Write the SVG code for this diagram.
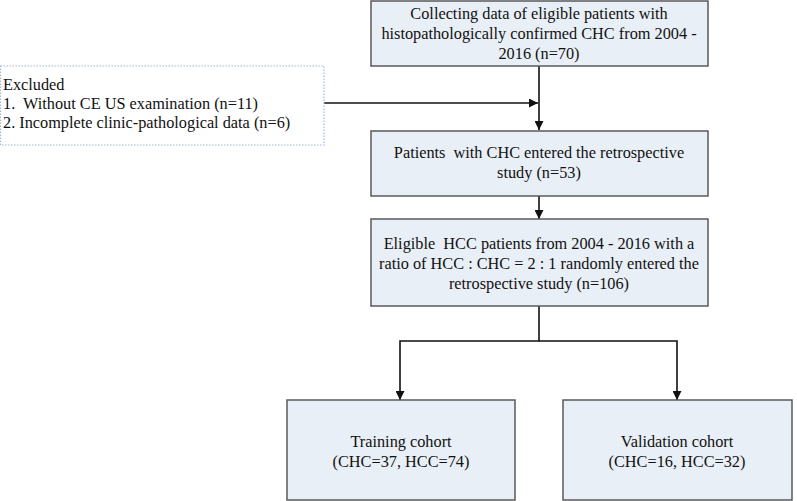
<svg xmlns="http://www.w3.org/2000/svg" width="797" height="501" viewBox="0 0 797 501">
<style>
.box{fill:#E9EFF6;stroke:#5a5a5a;stroke-width:1.5}
.ex{fill:#ffffff;stroke:#9DB9D8;stroke-width:1.2;stroke-dasharray:1.5 1.5}
text{font-family:"Liberation Serif","Times New Roman",serif;font-size:16.3px;fill:#111;white-space:pre}
.c{text-anchor:middle}
.ln{fill:none;stroke:#111;stroke-width:1.6}
</style>
<defs>
<marker id="ah" viewBox="0 0 10 10" refX="10" refY="5" markerWidth="10" markerHeight="9" markerUnits="userSpaceOnUse" orient="auto">
<path d="M0,0 L10,5 L0,10 Z" fill="#111"/>
</marker>
</defs>
<g id="connectors">
<line class="ln" x1="539" y1="66" x2="539" y2="130" marker-end="url(#ah)"/>
<line class="ln" x1="324" y1="103" x2="538" y2="103" marker-end="url(#ah)"/>
<line class="ln" x1="539" y1="196" x2="539" y2="219" marker-end="url(#ah)"/>
<polyline class="ln" points="539,306 539,341 400,341 400,400" marker-end="url(#ah)"/>
<polyline class="ln" points="539,341 677,341 677,400" marker-end="url(#ah)"/>
</g>
<g id="collect">
<rect class="box" x="371" y="1" width="337" height="65"/>
<text class="c" x="539" y="19">Collecting data of eligible patients with</text>
<text class="c" x="539" y="39">histopathologically confirmed CHC from 2004 -</text>
<text class="c" x="539" y="59">2016 (n=70)</text>
</g>
<g id="excluded">
<rect class="ex" x="0.5" y="66" width="323.5" height="79"/>
<text x="3" y="90">Excluded</text>
<text x="3" y="109" xml:space="preserve">1.  Without CE US examination (n=11)</text>
<text x="3" y="128">2. Incomplete clinic-pathological data (n=6)</text>
</g>
<g id="chc">
<rect class="box" x="371" y="131" width="337" height="65"/>
<text class="c" x="539" y="158" xml:space="preserve">Patients  with CHC entered the retrospective</text>
<text class="c" x="539" y="178">study (n=53)</text>
</g>
<g id="hcc">
<rect class="box" x="371" y="219" width="337" height="87"/>
<text class="c" x="539" y="249" xml:space="preserve">Eligible  HCC patients from 2004 - 2016 with a</text>
<text class="c" x="539" y="269">ratio of HCC : CHC = 2 : 1 randomly entered the</text>
<text class="c" x="539" y="289">retrospective study (n=106)</text>
</g>
<g id="training">
<rect class="box" x="287" y="400" width="228" height="100"/>
<text class="c" x="401" y="447">Training cohort</text>
<text class="c" x="401" y="467">(CHC=37, HCC=74)</text>
</g>
<g id="validation">
<rect class="box" x="563" y="400" width="229" height="100"/>
<text class="c" x="677" y="447">Validation cohort</text>
<text class="c" x="677" y="467">(CHC=16, HCC=32)</text>
</g>
</svg>
